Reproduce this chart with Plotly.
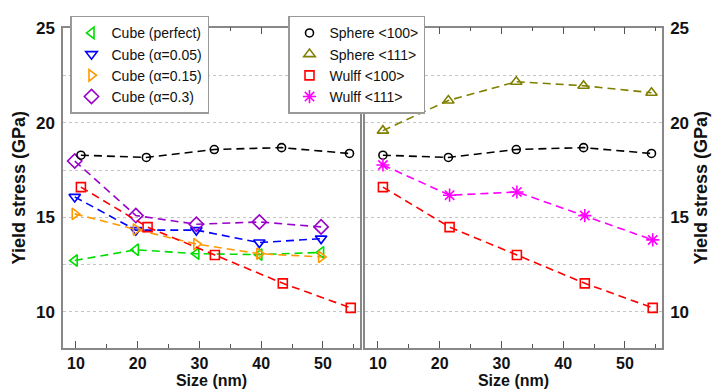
import plotly.graph_objects as go

# Particle sizes (nm)
sphere_size = [10.8, 21.4, 32.4, 43.3, 54.3]
wulff_size = [10.8, 21.6, 32.5, 43.5, 54.5]
cube_size = [9.8, 19.7, 29.5, 39.7, 49.7]

# Yield stress (GPa)
sphere_100 = [18.29, 18.17, 18.59, 18.69, 18.38]
sphere_111 = [19.59, 21.19, 22.18, 21.97, 21.6]
wulff_100 = [16.6, 14.48, 13.0, 11.5, 10.2]
wulff_111 = [17.77, 16.17, 16.34, 15.09, 13.8]
cube_perfect = [12.71, 13.28, 13.07, 13.02, 13.14]
cube_a005 = [16.08, 14.32, 14.32, 13.66, 13.87]
cube_a015 = [15.18, 14.35, 13.58, 13.07, 12.9]
cube_a03 = [17.98, 15.09, 14.63, 14.75, 14.49]

FONT = "Liberation Sans, Arial, sans-serif"

left_series = [
    ("Cube (perfect)", cube_size, cube_perfect, "#00dd00", "triangle-left-open", 10),
    ("Cube (α=0.05)", cube_size, cube_a005, "#0000ff", "triangle-down-open", 10),
    ("Cube (α=0.15)", cube_size, cube_a015, "#ff9900", "triangle-right-open", 10),
    ("Cube (α=0.3)", cube_size, cube_a03, "#9900cc", "diamond-open", 11),
    ("Sphere <100>", sphere_size, sphere_100, "#000000", "circle-open", 8),
    ("Wulff <100>", wulff_size, wulff_100, "#ff0000", "square-open", 9),
]
right_series = [
    ("Sphere <100>", sphere_size, sphere_100, "#000000", "circle-open", 8),
    ("Sphere <111>", sphere_size, sphere_111, "#808000", "triangle-up-open", 10),
    ("Wulff <100>", wulff_size, wulff_100, "#ff0000", "square-open", 9),
    ("Wulff <111>", wulff_size, wulff_111, "#ff00ff", "asterisk-open", 11),
]

fig = go.Figure()

def add_series(series, xa, ya):
    for name, xs, ys, color, sym, size in series:
        fig.add_trace(go.Scatter(
            x=xs, y=ys, mode="lines+markers", name=name, showlegend=False,
            xaxis=xa, yaxis=ya,
            line=dict(color=color, width=1.6, dash="8px,5px"),
            marker=dict(symbol=sym, size=size, color=color,
                        line=dict(color=color, width=1.6)),
        ))

add_series(left_series, "x", "y")
add_series(right_series, "x2", "y2")

# Legend entries (markers only)
def add_legend(series, legend_id):
    for name, _, _, color, sym, size in series:
        fig.add_trace(go.Scatter(
            x=[None], y=[None], mode="markers", name=name, legend=legend_id,
            marker=dict(symbol=sym, size=size, color=color,
                        line=dict(color=color, width=1.6)),
        ))

add_legend(left_series[:4], "legend")
add_legend(right_series, "legend2")

W, H = 713, 390
yr = [8.08, 25.05]
xr = [7.9, 56.0]
ydom = [1 - 347 / H, 1 - 20 / H]

xcommon = dict(
    range=xr, showline=True, linecolor="#888888", linewidth=1.5, mirror="ticks",
    ticks="inside", ticklen=7, tickcolor="#555555", tickwidth=1.2, tick0=10, dtick=10,
    minor=dict(ticks="inside", ticklen=4, dtick=5, tick0=5, tickcolor="#555555", tickwidth=1.2),
    showgrid=False, zeroline=False,
    tickfont=dict(family=FONT, size=16, color="#111111", weight="bold"),
    title=dict(text="Size (nm)", font=dict(family=FONT, size=16, color="#111111", weight="bold"),
               standoff=4),
)
ycommon = dict(
    range=yr, showline=True, linecolor="#888888", linewidth=1.5, mirror=True,
    ticks="", tick0=10, dtick=5, zeroline=False,
    showgrid=True, gridcolor="#c4c4c4", griddash="dot", gridwidth=1,
    minor=dict(dtick=2.5, tick0=10, showgrid=True, gridcolor="#c4c4c4", griddash="dot", gridwidth=1),
    tickfont=dict(family=FONT, size=17, color="#111111", weight="bold"),
    title=dict(text="Yield stress (GPa)", font=dict(family=FONT, size=18, color="#111111", weight="bold"),
               standoff=6),
    ticklabelstandoff=3,
)

fig.update_layout(
    width=W, height=H, margin=dict(l=0, r=0, t=0, b=0),
    plot_bgcolor="white", paper_bgcolor="white",
    xaxis=dict(domain=[63 / W, 360 / W], anchor="y", **xcommon),
    xaxis2=dict(domain=[365 / W, 662 / W], anchor="y2", **xcommon),
    yaxis=dict(domain=ydom, anchor="x", side="left", **ycommon),
    yaxis2=dict(domain=ydom, anchor="x2", side="right", **ycommon),
    legend=dict(x=70 / W, y=1 - 8 / H, xanchor="left", yanchor="top",
                bgcolor="white", bordercolor="#999999", borderwidth=1.5,
                font=dict(family=FONT, size=14, color="#111111")),
    legend2=dict(x=288 / W, y=1 - 8 / H, xanchor="left", yanchor="top",
                 bgcolor="white", bordercolor="#999999", borderwidth=1.5,
                 font=dict(family=FONT, size=14, color="#111111")),
)

fig.write_html("out.html")
